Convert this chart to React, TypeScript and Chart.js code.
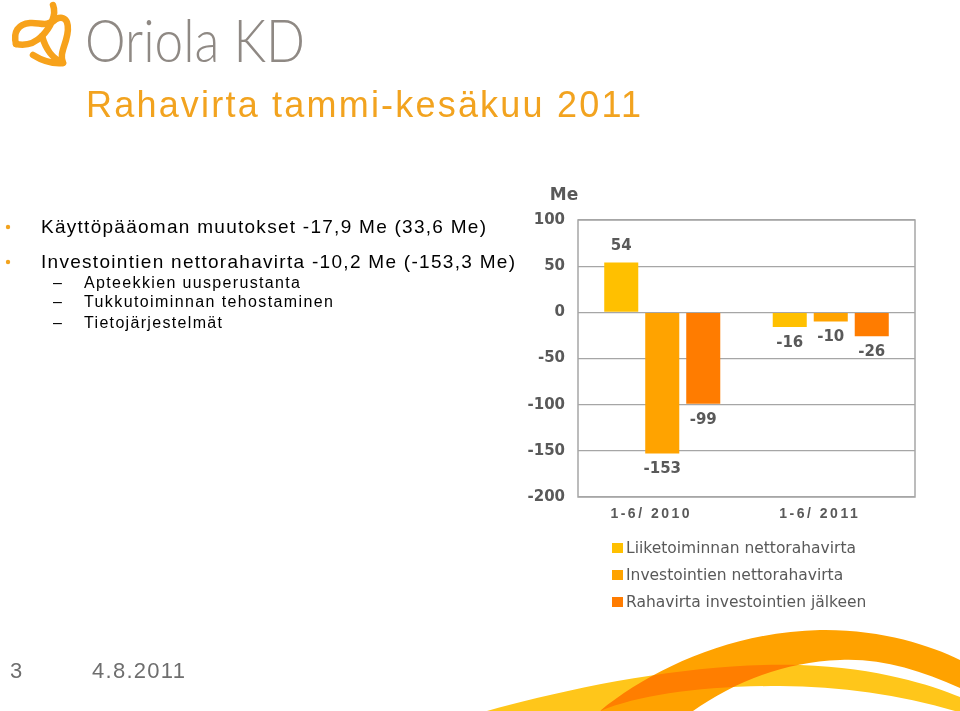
import React, { useEffect, useRef } from "react";
import { Chart, registerables } from "chart.js";

Chart.register(...registerables);

const categories = ["1-6/ 2010", "1-6/ 2011"];
const seriesNames = [
  "Liiketoiminnan nettorahavirta",
  "Investointien nettorahavirta",
  "Rahavirta investointien jälkeen",
];
const liiketoiminta = [54, -16];
const investoinnit = [-153, -10];
const rahavirta = [-99, -26];
const seriesColors = ["#FFC000", "#FFA300", "#FF7C00"];
const yMin = -200;
const yMax = 100;
const yStep = 50;
const unitLabel = "Me";

const GRAY = "#595959";

const overlayPlugin = {
  id: "overlay",
  afterDatasetsDraw(chart: any) {
    const { ctx, chartArea } = chart;
    ctx.save();
    ctx.strokeStyle = "#A6A6A6";
    ctx.lineWidth = 1.5;
    ctx.strokeRect(chartArea.left, chartArea.top, chartArea.width, chartArea.height);

    ctx.font = 'bold 15px "DejaVu Sans"';
    ctx.fillStyle = GRAY;
    ctx.textAlign = "center";
    ctx.textBaseline = "middle";
    chart.data.datasets.forEach((ds: any, i: number) => {
      const meta = chart.getDatasetMeta(i);
      meta.data.forEach((bar: any, j: number) => {
        const v = ds.data[j];
        const y = v >= 0 ? bar.y - 16 : bar.y + 16;
        ctx.fillText(String(v), bar.x, y);
      });
    });

    ctx.font = 'bold 17px "DejaVu Sans"';
    ctx.fillText(unitLabel, chartArea.left - 14, chartArea.top - 24);

    const xs = chart.scales.x;
    ctx.font = 'bold 14px "Liberation Sans"';
    (ctx as any).letterSpacing = "2.5px";
    chart.data.labels.forEach((lab: string, i: number) => {
      const x = xs.getPixelForValue(i);
      ctx.fillText(lab, x - 11, chartArea.bottom + 17);
    });
    (ctx as any).letterSpacing = "0px";

    ctx.font = '15.5px "DejaVu Sans"';
    ctx.textAlign = "left";
    chart.data.datasets.forEach((ds: any, i: number) => {
      const y = chartArea.bottom + 51 + i * 27;
      ctx.fillStyle = ds.backgroundColor;
      ctx.fillRect(chartArea.left + 34, y - 5, 11, 10);
      ctx.fillStyle = GRAY;
      ctx.fillText(ds.label, chartArea.left + 48, y + 1);
    });
    ctx.restore();
  },
};

function BarChart() {
  const ref = useRef<HTMLCanvasElement | null>(null);
  useEffect(() => {
    if (!ref.current) return;
    const chart = new Chart(ref.current, {
      type: "bar",
      data: {
        labels: categories,
        datasets: [
          { label: seriesNames[0], data: liiketoiminta, backgroundColor: seriesColors[0] },
          { label: seriesNames[1], data: investoinnit, backgroundColor: seriesColors[1] },
          { label: seriesNames[2], data: rahavirta, backgroundColor: seriesColors[2] },
        ],
      },
      options: {
        responsive: false,
        animation: false,
        layout: { padding: { left: 0, right: 15, top: 35, bottom: 0 } },
        datasets: {
          bar: { barPercentage: 0.83, categoryPercentage: 0.73 },
        },
        plugins: {
          legend: { display: false },
          tooltip: { enabled: false },
          title: { display: false },
        },
        scales: {
          x: {
            grid: { display: false },
            border: { display: false },
            ticks: { display: false },
            afterFit: (s: any) => {
              s.height = 118;
            },
          },
          y: {
            min: yMin,
            max: yMax,
            ticks: {
              stepSize: yStep,
              padding: 13,
              color: GRAY,
              font: { family: "DejaVu Sans", size: 15, weight: "bold" },
              callback: (v: any) => String(v),
            },
            grid: { color: "#A6A6A6", lineWidth: 1.2, drawTicks: false },
            border: { display: false },
            afterFit: (s: any) => {
              s.width = 58;
            },
          },
        },
      },
      plugins: [overlayPlugin],
    });
    return () => chart.destroy();
  }, []);
  return (
    <canvas
      ref={ref}
      width={410}
      height={430}
      style={{ position: "absolute", left: 520, top: 185, width: 410, height: 430 }}
    />
  );
}

export default function App() {
  useEffect(() => {
    document.body.style.margin = "0";
    document.body.style.background = "#ffffff";
  }, []);
  const orange = "#F2A31F";
  const bodyFont = '"Liberation Sans", Arial, sans-serif';
  return (
    <div style={{ position: "relative", width: 960, height: 711, overflow: "hidden", background: "#fff" }}>
      <svg width={960} height={711} style={{ position: "absolute", left: 0, top: 0 }}>
        <g fill="none" stroke="#F7A21B" strokeWidth={6.5} strokeLinecap="round" strokeLinejoin="round">
          <path d="M 16 44 C 13 32, 18 24, 30 23 C 40 22, 46 28, 56 19" />
          <path d="M 53 5 C 57 15, 50 28, 42 36 C 34 44, 25 46, 16 44" />
          <path d="M 56 19 C 68 14, 70 26, 66 40 C 63 50, 60 56, 63 63" />
          <path d="M 42 36 C 46 50, 52 58, 63 63 C 52 64, 41 60, 33 55" />
        </g>
        <text
          x={85}
          y={62}
          fontFamily="Lato, 'Open Sans', sans-serif"
          fontWeight={300}
          fontSize={60}
          fill="#8F8984"
          textLength={220}
          lengthAdjust="spacingAndGlyphs"
        >
          Oriola KD
        </text>

        <text x={86} y={117} fontFamily={bodyFont} fontSize={36} fill={orange} textLength={555} lengthAdjust="spacing">
          Rahavirta tammi-kesäkuu 2011
        </text>

        <circle cx={8} cy={227} r={2.2} fill={orange} />
        <circle cx={8} cy={262} r={2.2} fill={orange} />
        <text x={41} y={233} fontFamily={bodyFont} fontSize={19} fill="#000" textLength={445} lengthAdjust="spacing">
          Käyttöpääoman muutokset -17,9 Me (33,6 Me)
        </text>
        <text x={41} y={268} fontFamily={bodyFont} fontSize={19} fill="#000" textLength={474} lengthAdjust="spacing">
          Investointien nettorahavirta -10,2 Me (-153,3 Me)
        </text>
        <g fontFamily={bodyFont} fontSize={16} fill="#000">
          <text x={53} y={288}>–</text>
          <text x={53} y={307}>–</text>
          <text x={53} y={328}>–</text>
          <text x={84} y={288} textLength={216} lengthAdjust="spacing">Apteekkien uusperustanta</text>
          <text x={84} y={307} textLength={249} lengthAdjust="spacing">Tukkutoiminnan tehostaminen</text>
          <text x={84} y={328} textLength={138} lengthAdjust="spacing">Tietojärjestelmät</text>
        </g>

        <text x={10} y={678} fontFamily={bodyFont} fontSize={22} fill="#6E6E6E">3</text>
        <text x={92} y={678} fontFamily={bodyFont} fontSize={22} fill="#6E6E6E" textLength={93} lengthAdjust="spacing">
          4.8.2011
        </text>

        <path
          d="M 487 711 C 580 685, 700 662, 800 665 C 880 668, 930 685, 960 697 L 960 711 L 955 711 C 900 695, 840 686, 780 686 C 700 686, 640 695, 600 711 Z"
          fill="#FFC61A"
        />
        <path
          d="M 600 711 C 650 670, 730 632, 820 630 C 880 629, 930 645, 960 660 L 960 688 C 920 670, 880 658, 840 660 C 780 662, 730 685, 693 711 Z"
          fill="#FFA200"
          style={{ mixBlendMode: "multiply" }}
        />
      </svg>
      <BarChart />
    </div>
  );
}
